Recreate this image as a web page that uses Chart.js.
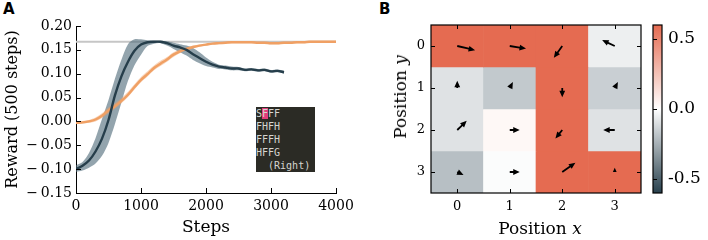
<!DOCTYPE html>
<html lang="en">
<head>
<meta charset="UTF-8">
<title>Reward curves and policy grid</title>
<script src="https://cdn.jsdelivr.net/npm/chart.js"></script>
<style>
  body { margin: 0; background: #fff; }
  .fig { position: relative; width: 708px; height: 240px; overflow: hidden; font-family: "DejaVu Serif", serif; }
  .fig canvas { position: absolute; top: 0; }
  .panel-tag { position: absolute; top: 2px; font: bold 15px "DejaVu Sans", sans-serif; line-height: 15px; }
  .inset {
    position: absolute; left: 256px; top: 107px; width: 59px; height: 65px;
    background: #2b2b25; color: #d6d6d0; margin: 0; padding: 0;
    font: 10px "DejaVu Sans Mono", monospace; line-height: 13px; white-space: pre;
  }
  .inset .hl { background: #e23c7a; }
  .axis-title { position: absolute; font-size: 17px; white-space: nowrap; transform: translate(-50%, -50%); }
  .axis-title.rot { transform: translate(-50%, -50%) rotate(-90deg); }
</style>
</head>
<body>
<div class="fig">
  <div class="panel-tag" style="left:3px">A</div>
  <canvas id="rewardCanvas" width="360" height="240" style="left:0"></canvas>
  <div class="inset">S<span class="hl">F</span>FF
FHFH
FFFH
HFFG
  (Right)</div>

  <div class="panel-tag" style="left:379px">B</div>
  <canvas id="gridCanvas" width="290" height="240" style="left:360px"></canvas>
  <canvas id="barCanvas" width="68" height="240" style="left:640px"></canvas>
  <div class="axis-title" style="left:540px; top:228px">Position <i>x</i></div>
  <div class="axis-title rot" style="left:400px; top:97px">Position <i>y</i></div>
</div>

<script>
// ---- panel A: reward per 500 steps ----
const slateSteps = [0,100,200,300,400,500,600,700,800,900,1000,1100,1200,1300,1400,1500,1600,
  1700,1800,1900,2000,2100,2200,2300,2400,2500,2600,2700,2800,2900,3000,3100,3200];
const slateMean = [-0.100,-0.093,-0.082,-0.063,-0.036,0.003,0.055,0.095,0.125,0.148,0.161,0.166,
  0.167,0.167,0.164,0.159,0.155,0.150,0.141,0.133,0.125,0.119,0.115,0.113,0.111,0.111,0.108,
  0.109,0.107,0.108,0.105,0.106,0.103];
const slateLow = [-0.106,-0.103,-0.097,-0.088,-0.072,-0.045,-0.005,0.040,0.085,0.118,0.140,0.158,
  0.163,0.164,0.159,0.152,0.145,0.138,0.129,0.122,0.116,0.113,0.110,0.109,0.107,0.107,0.105,
  0.106,0.104,0.105,0.102,0.103,0.100];
const slateHigh = [-0.092,-0.085,-0.066,-0.035,0.005,0.045,0.090,0.130,0.162,0.172,0.172,0.170,
  0.169,0.169,0.168,0.165,0.162,0.159,0.154,0.145,0.134,0.125,0.119,0.117,0.115,0.114,0.111,
  0.112,0.110,0.111,0.108,0.109,0.106];

const orangeSteps = [0,100,200,300,400,500,600,700,800,900,1000,1100,1200,1300,1400,1500,1600,
  1700,1800,1900,2000,2100,2200,2300,2400,2500,2600,2700,2800,2900,3000,3100,3200,3300,3400,
  3500,3600,3700,3800,3900,4000];
const orangeMean = [-0.003,-0.002,0.000,0.004,0.012,0.023,0.032,0.043,0.056,0.072,0.087,0.099,
  0.112,0.121,0.130,0.140,0.147,0.152,0.156,0.159,0.161,0.163,0.164,0.165,0.166,0.166,0.166,
  0.166,0.165,0.165,0.164,0.164,0.165,0.165,0.166,0.166,0.167,0.167,0.167,0.167,0.167];
const orangeLow = [-0.006,-0.005,-0.003,0.000,0.007,0.017,0.027,0.038,0.051,0.067,0.082,0.094,
  0.107,0.116,0.125,0.135,0.143,0.149,0.153,0.157,0.159,0.161,0.162,0.163,0.164,0.164,0.164,
  0.164,0.163,0.163,0.162,0.162,0.163,0.163,0.164,0.164,0.165,0.165,0.165,0.165,0.165];
const orangeHigh = [0.000,0.001,0.003,0.008,0.017,0.029,0.038,0.049,0.062,0.078,0.093,0.105,
  0.117,0.127,0.135,0.145,0.151,0.155,0.159,0.161,0.163,0.165,0.166,0.167,0.168,0.168,0.168,
  0.168,0.167,0.167,0.166,0.166,0.167,0.167,0.168,0.168,0.169,0.169,0.169,0.169,0.169];

const optimalReward = 0.167;
const stepRange = [0, 4000];
const xTickValues = [0, 1000, 2000, 3000, 4000];
const xTickLabels = ['0', '1000', '2000', '3000', '4000'];
const yTickValues = [-0.15, -0.10, -0.05, 0, 0.05, 0.10, 0.15, 0.20];
const yTickLabels = ['\u2212\u20090.15', '\u2212\u20090.10', '\u2212\u20090.05', '0.00', '0.05', '0.10', '0.15', '0.20'];

// ---- panel B: value grid with policy arrows ----
const gridCols = ['0', '1', '2', '3'];
const gridRows = [0, 1, 2, 3];
const cellValues = [
  [0.60, 0.60, 0.60, -0.05],
  [-0.09, -0.17, 0.60, -0.15],
  [-0.09, 0.03, 0.60, -0.09],
  [-0.20, -0.01, 0.60, 0.60]
];
// arrow components in cell units (dy > 0 points down the grid)
const arrowDx = [
  [0.34, 0.31, -0.16, -0.24],
  [0.00, 0.06, 0.00, 0.06],
  [0.18, 0.19, -0.13, -0.22],
  [0.12, 0.19, 0.25, 0.00]
];
const arrowDy = [
  [0.10, 0.06, 0.28, -0.14],
  [-0.17, -0.14, 0.22, -0.14],
  [-0.22, 0.00, 0.20, 0.00],
  [0.07, 0.00, -0.22, -0.10]
];
const cbarMin = -0.6, cbarMax = 0.6;
const cbarTicks = [-0.5, 0, 0.5];
const cbarTickLabels = ['-0.5', '0.0', '0.5'];

Chart.defaults.font.family = "'DejaVu Serif', serif";
Chart.defaults.color = '#000';

const lowColor = [40, 64, 77], midColor = [255, 255, 255], highColor = [229, 107, 81];
function colorFor(v) {
  const t = Math.max(-1, Math.min(1, v / cbarMax));
  const end = t < 0 ? lowColor : highColor;
  const c = midColor.map((m, i) => Math.round(m + (end[i] - m) * Math.abs(t)));
  return `rgb(${c.join(',')})`;
}

const pts = (xs, ys) => xs.map((x, i) => ({ x, y: ys[i] }));

// ticks pointing into the plot, like the matplotlib figure
function tickMarks(sides, len, frame) {
  return {
    id: 'tickMarks',
    afterDraw(chart) {
      const { ctx, chartArea: a, scales } = chart;
      ctx.save();
      ctx.strokeStyle = '#000';
      ctx.lineWidth = 1;
      ctx.beginPath();
      if (scales.x.options.display !== false) {
        scales.x.ticks.forEach((t, i) => {
          const px = Math.round(scales.x.getPixelForTick(i)) + 0.5;
          if (sides.includes('bottom')) { ctx.moveTo(px, a.bottom); ctx.lineTo(px, a.bottom - len); }
          if (sides.includes('top')) { ctx.moveTo(px, a.top); ctx.lineTo(px, a.top + len); }
        });
      }
      scales.y.ticks.forEach((t, i) => {
        const py = Math.round(scales.y.getPixelForTick(i)) + 0.5;
        if (sides.includes('left')) { ctx.moveTo(a.left, py); ctx.lineTo(a.left + len, py); }
        if (sides.includes('right')) { ctx.moveTo(a.right, py); ctx.lineTo(a.right - len, py); }
      });
      ctx.stroke();
      if (frame) {
        ctx.lineWidth = 1.2;
        ctx.strokeRect(a.left, a.top, a.right - a.left, a.bottom - a.top);
      }
      ctx.restore();
    }
  };
}

const rewardChart = new Chart(document.getElementById('rewardCanvas'), {
  type: 'line',
  data: {
    datasets: [
      { data: pts(stepRange, [optimalReward, optimalReward]), borderColor: '#c6c6c6', borderWidth: 2,
        pointRadius: 0, order: 10 },
      { data: pts(slateSteps, slateHigh), borderColor: 'transparent', borderWidth: 0, pointRadius: 0,
        fill: '+1', backgroundColor: 'rgba(80,108,122,0.62)', tension: 0.3, order: 8 },
      { data: pts(slateSteps, slateLow), borderColor: 'transparent', borderWidth: 0, pointRadius: 0,
        tension: 0.3, order: 8 },
      { data: pts(orangeSteps, orangeHigh), borderColor: 'transparent', borderWidth: 0, pointRadius: 0,
        fill: '+1', backgroundColor: 'rgba(240,160,100,0.45)', tension: 0.3, order: 6 },
      { data: pts(orangeSteps, orangeLow), borderColor: 'transparent', borderWidth: 0, pointRadius: 0,
        tension: 0.3, order: 6 },
      { data: pts(orangeSteps, orangeMean), borderColor: '#f0a064', borderWidth: 2.4, pointRadius: 0,
        tension: 0.3, order: 5 },
      { data: pts(slateSteps, slateMean), borderColor: '#263e4b', borderWidth: 2.4, pointRadius: 0,
        tension: 0.3, order: 4 }
    ]
  },
  options: {
    responsive: false,
    animation: false,
    layout: { padding: { left: 0, right: 24, top: 26, bottom: 0 } },
    plugins: { legend: { display: false }, tooltip: { enabled: false } },
    scales: {
      x: {
        type: 'linear', min: 0, max: 4000,
        afterBuildTicks: s => { s.ticks = xTickValues.map(value => ({ value })); },
        afterFit: s => { s.height = 47; },
        ticks: { callback: (v, i) => xTickLabels[i], font: { size: 14 }, padding: 5, maxRotation: 0 },
        grid: { drawOnChartArea: false, drawTicks: false },
        border: { display: true, color: '#000', width: 1 },
        title: { display: true, text: 'Steps', font: { size: 17 }, padding: { top: 0, bottom: 2 } }
      },
      y: {
        type: 'linear', min: -0.15, max: 0.20,
        afterBuildTicks: s => { s.ticks = yTickValues.map(value => ({ value })); },
        afterFit: s => { s.width = 76; },
        ticks: { callback: (v, i) => yTickLabels[i], font: { size: 14 }, padding: 4 },
        grid: { drawOnChartArea: false, drawTicks: false },
        border: { display: true, color: '#000', width: 1 },
        title: { display: true, text: 'Reward (500 steps)', font: { size: 16 }, padding: { top: 3, bottom: 0 } }
      }
    }
  },
  plugins: [tickMarks(['left', 'bottom'], 5, false)]
});

function drawArrow(ctx, x0, y0, x1, y1) {
  const dx = x1 - x0, dy = y1 - y0, len = Math.hypot(dx, dy);
  if (!len) return;
  const ux = dx / len, uy = dy / len, nx = -uy, ny = ux;
  const shaft = 1.8, headL = Math.min(6.5, len), headW = 5.8 * headL / 6.5;
  const bx = x1 - ux * headL, by = y1 - uy * headL;
  ctx.beginPath();
  ctx.moveTo(x0 + nx * shaft / 2, y0 + ny * shaft / 2);
  ctx.lineTo(bx + nx * shaft / 2, by + ny * shaft / 2);
  ctx.lineTo(bx + nx * headW / 2, by + ny * headW / 2);
  ctx.lineTo(x1, y1);
  ctx.lineTo(bx - nx * headW / 2, by - ny * headW / 2);
  ctx.lineTo(bx - nx * shaft / 2, by - ny * shaft / 2);
  ctx.lineTo(x0 - nx * shaft / 2, y0 - ny * shaft / 2);
  ctx.closePath();
  ctx.fill();
}

const arrowPlugin = {
  id: 'policyArrows',
  afterDatasetsDraw(chart) {
    const { ctx, scales: { x, y } } = chart;
    ctx.save();
    ctx.fillStyle = '#000';
    gridRows.forEach((r, ri) => gridCols.forEach((c, ci) => {
      drawArrow(ctx,
        x.getPixelForValue(ci), y.getPixelForValue(r),
        x.getPixelForValue(ci + arrowDx[ri][ci]), y.getPixelForValue(r + arrowDy[ri][ci]));
    }));
    ctx.restore();
  }
};

const gridChart = new Chart(document.getElementById('gridCanvas'), {
  type: 'bar',
  data: {
    labels: gridCols,
    datasets: gridRows.map((r, ri) => ({
      data: gridCols.map(() => [r - 0.5, r + 0.5]),
      backgroundColor: cellValues[ri].map(colorFor),
      borderWidth: 0,
      grouped: false,
      categoryPercentage: 1,
      barPercentage: 1
    }))
  },
  options: {
    responsive: false,
    animation: false,
    layout: { padding: { left: 0, right: 9, top: 25, bottom: 0 } },
    plugins: { legend: { display: false }, tooltip: { enabled: false } },
    scales: {
      x: {
        type: 'category', offset: true,
        afterFit: s => { s.height = 47; },
        ticks: { font: { size: 13 }, padding: 6, maxRotation: 0 },
        grid: { display: false, drawTicks: false },
        border: { display: false }
      },
      y: {
        type: 'linear', reverse: true, min: -0.5, max: 3.5,
        afterBuildTicks: s => { s.ticks = gridRows.map(value => ({ value })); },
        afterFit: s => { s.width = 71; },
        ticks: { callback: v => String(v), font: { size: 13 }, padding: 6 },
        grid: { display: false, drawTicks: false },
        border: { display: false }
      }
    }
  },
  plugins: [arrowPlugin, tickMarks(['left', 'right', 'top', 'bottom'], 4, true)]
});

function cbarGradient(chart) {
  const a = chart.chartArea;
  if (!a || !isFinite(a.top) || !isFinite(a.bottom)) return colorFor(0);
  const g = chart.ctx.createLinearGradient(0, a.bottom, 0, a.top);
  for (let i = 0; i <= 12; i++) {
    g.addColorStop(i / 12, colorFor(cbarMin + (cbarMax - cbarMin) * i / 12));
  }
  return g;
}

const barChart = new Chart(document.getElementById('barCanvas'), {
  type: 'bar',
  data: {
    labels: [''],
    datasets: [{
      data: [[cbarMin, cbarMax]],
      backgroundColor: ctx => cbarGradient(ctx.chart),
      borderWidth: 0,
      categoryPercentage: 1,
      barPercentage: 1
    }]
  },
  options: {
    responsive: false,
    animation: false,
    layout: { padding: { left: 13, right: 0, top: 25, bottom: 47 } },
    plugins: { legend: { display: false }, tooltip: { enabled: false } },
    scales: {
      x: { display: false },
      y: {
        position: 'right', min: cbarMin, max: cbarMax,
        afterBuildTicks: s => { s.ticks = cbarTicks.map(value => ({ value })); },
        afterFit: s => { s.width = 46; },
        ticks: { callback: (v, i) => cbarTickLabels[i], font: { size: 17 }, padding: 6 },
        grid: { display: false, drawTicks: false },
        border: { display: false }
      }
    }
  },
  plugins: [tickMarks(['left'], 4, true)]
});
</script>
</body>
</html>
